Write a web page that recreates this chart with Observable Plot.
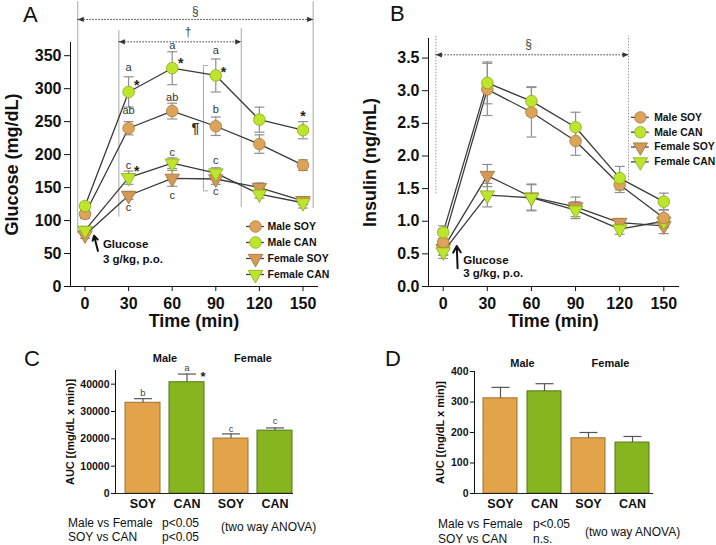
<!DOCTYPE html>
<html><head><meta charset="utf-8">
<script src="https://cdn.jsdelivr.net/npm/d3@7"></script>
<script src="https://cdn.jsdelivr.net/npm/@observablehq/plot@0.6"></script>
<style>
body{margin:0;background:#fff;}
#root{position:relative;width:716px;height:545px;overflow:hidden;font-family:"Liberation Sans",Arial,Helvetica,sans-serif;color:#111;}
.abs{position:absolute;}
.abs svg{display:block;}
.lbl{position:absolute;white-space:nowrap;line-height:1;}
</style></head><body><div id="root"></div>
<script>
// ---------------- data ----------------
const times = [0, 30, 60, 90, 120, 150];
const seriesNames = ["Male SOY", "Male CAN", "Female SOY", "Female CAN"];

// Glucose (mg/dL), mean and SEM
const gluMaleSOY      = [110, 240, 266, 243, 216, 184];
const gluMaleSOYErr   = [7, 10, 12, 14, 14, 8];
const gluMaleCAN      = [122, 295, 331, 320, 253, 237];
const gluMaleCANErr   = [5, 23, 25, 25, 19, 13];
const gluFemaleSOY    = [78, 138, 164, 163, 150, 130];
const gluFemaleSOYErr = [5, 6, 12, 8, 7, 6];
const gluFemaleCAN    = [85, 165, 187, 172, 140, 127];
const gluFemaleCANErr = [6, 10, 8, 8, 6, 8];

// Insulin (ng/mL), mean and SEM
const insMaleSOY      = [0.68, 3.02, 2.67, 2.23, 1.56, 1.05];
const insMaleSOYErr   = [0.2, 0.4, 0.38, 0.22, 0.12, 0.13];
const insMaleCAN      = [0.83, 3.12, 2.84, 2.44, 1.66, 1.30];
const insMaleCANErr   = [0.1, 0.32, 0.22, 0.23, 0.18, 0.13];
const insFemaleSOY    = [0.58, 1.70, 1.37, 1.22, 0.98, 0.93];
const insFemaleSOYErr = [0.1, 0.17, 0.2, 0.15, 0.06, 0.12];
const insFemaleCAN    = [0.53, 1.40, 1.36, 1.17, 0.88, 1.00];
const insFemaleCANErr = [0.1, 0.18, 0.2, 0.13, 0.08, 0.1];

// AUC
const aucGroups     = ["Male SOY", "Male CAN", "Female SOY", "Female CAN"];
const aucDietLabels = ["SOY", "CAN", "SOY", "CAN"];
const aucGlucose    = [33200, 40700, 20100, 23000];
const aucGlucoseErr = [1500, 3000, 1700, 1000];
const aucInsulin    = [312, 335, 181, 167];
const aucInsulinErr = [36, 25, 19, 20];
const sexGroups     = ["Male", "Female"];
const sexFirstGroup = ["Male SOY", "Female SOY"];

// annotations (data coordinates)
const gluLetterT = [30, 60, 90, 30, 60, 90, 60, 30, 30, 60, 90, 90];
const gluLetterV = [332, 365, 358, 267, 286, 268, 203, 183, 120, 138, 191, 144];
const gluLetterS = ["a", "a", "a", "ab", "ab", "b", "c", "c", "c", "c", "c", "c"];
const gluStarT = [35.6, 65.8, 95.2, 150, 35.6];
const gluStarV = [309, 342, 329, 262, 179];
const aucGluLetterG = ["Male SOY", "Male CAN", "Female SOY", "Female CAN"];
const aucGluLetterV = [36700, 45800, 23600, 26500];
const aucGluLetterS = ["b", "a", "c", "c"];

// ---------------- styles ----------------
const FONT = '"Liberation Sans", Arial, Helvetica, sans-serif';
const PT = {
  "Male SOY":   {fill: "#DBA45A", stroke: "#A87A3A", tri: false},
  "Male CAN":   {fill: "#BDE52B", stroke: "#86A91A", tri: false},
  "Female SOY": {fill: "#D39A55", stroke: "#A07038", tri: true},
  "Female CAN": {fill: "#BDE52B", stroke: "#86A91A", tri: true}
};
const BAR = {SOY: {fill: "#E3A34A", stroke: "#9C7431"}, CAN: {fill: "#86B520", stroke: "#55761A"}};

const downTri = {draw(ctx, size) {
  const a = Math.sqrt(4 * size / Math.sqrt(3)), h = a * Math.sqrt(3) / 2;
  ctx.moveTo(-a / 2, -h / 3); ctx.lineTo(a / 2, -h / 3); ctx.lineTo(0, 2 * h / 3); ctx.closePath();
}};
const capSym = {draw(ctx, size) { const w = Math.sqrt(size / Math.PI); ctx.moveTo(-w, 0); ctx.lineTo(w, 0); }};
const headRight = {draw(ctx) { ctx.moveTo(0, 0); ctx.lineTo(-6, -2.6); ctx.lineTo(-6, 2.6); ctx.closePath(); }};
const headLeft  = {draw(ctx) { ctx.moveTo(0, 0); ctx.lineTo(6, -2.6); ctx.lineTo(6, 2.6); ctx.closePath(); }};

function makeTable(vals, errs) {
  return seriesNames.flatMap((s, i) => times.map((t, j) => ({series: s, t, v: vals[i][j], e: errs[i][j]})));
}
const gluData = makeTable([gluMaleSOY, gluMaleCAN, gluFemaleSOY, gluFemaleCAN],
                          [gluMaleSOYErr, gluMaleCANErr, gluFemaleSOYErr, gluFemaleCANErr]);
const insData = makeTable([insMaleSOY, insMaleCAN, insFemaleSOY, insFemaleCAN],
                          [insMaleSOYErr, insMaleCANErr, insFemaleSOYErr, insFemaleCANErr]);

function seriesMarks(data) {
  const marks = [
    Plot.line(data, {x: "t", y: "v", z: "series", stroke: "#3a3a3a", strokeWidth: 1.3}),
    Plot.ruleX(data, {x: "t", y1: d => d.v - d.e, y2: d => d.v + d.e, stroke: "#8f8f8f", strokeWidth: 1.2}),
    Plot.dot(data, {x: "t", y: d => d.v + d.e, symbol: capSym, r: 5, fill: "none", stroke: "#8f8f8f", strokeWidth: 1.2}),
    Plot.dot(data, {x: "t", y: d => d.v - d.e, symbol: capSym, r: 5, fill: "none", stroke: "#8f8f8f", strokeWidth: 1.2})
  ];
  for (const s of ["Female SOY", "Female CAN", "Male SOY", "Male CAN"]) {
    const st = PT[s];
    marks.push(Plot.dot(data.filter(d => d.series === s), {
      x: "t", y: "v", symbol: st.tri ? downTri : "circle", r: st.tri ? 5.4 : 5.8,
      fill: st.fill, stroke: st.stroke, strokeWidth: 0.8
    }));
  }
  return marks;
}

function lineStyle(size) {
  return {fontFamily: FONT, fontSize: size, fontWeight: "bold", color: "#111", background: "transparent", overflow: "visible"};
}

// ---------------- Panel A ----------------
const gluLetters = gluLetterT.map((t, i) => ({t, v: gluLetterV[i], s: gluLetterS[i]}));
const gluStars = gluStarT.map((t, i) => ({t, v: gluStarV[i]}));
const gluVLines = [{x: -5, y1: 80, y2: 432}, {x: 23.3, y1: 105, y2: 388}, {x: 107.5, y1: 120, y2: 391}, {x: 157, y1: 118, y2: 432}];
const gluSpans = [{x1: -5, x2: 157, y: 405, s: "§", sx: 76, sy: 418}, {x1: 23.3, x2: 107.5, y: 371, s: "†", sx: 71, sy: 385}];

const plotA = Plot.plot({
  width: 358, height: 335, marginLeft: 70, marginRight: 41, marginTop: 42, marginBottom: 49,
  style: lineStyle("16px"),
  x: {domain: [-10, 160], ticks: times, tickSize: 5, tickPadding: 6.5, label: null, line: true},
  y: {domain: [0, 370], ticks: d3.range(0, 351, 50), tickSize: 6, tickPadding: 3, label: null, line: true},
  marks: [
    Plot.ruleX(gluVLines, {x: "x", y1: "y1", y2: "y2", stroke: "#a8a8a8", strokeWidth: 1}),
    Plot.ruleX([{x: 81.5, y1: 145, y2: 335}], {x: "x", y1: "y1", y2: "y2", stroke: "#a8a8a8"}),
    Plot.ruleY([{y: 335}, {y: 145}], {y: "y", x1: () => 81.5, x2: () => 85, stroke: "#a8a8a8"}),
    Plot.ruleY(gluSpans, {y: "y", x1: "x1", x2: "x2", stroke: "#444", strokeWidth: 1, strokeDasharray: "1.6,1.4"}),
    Plot.dot(gluSpans, {x: "x1", y: "y", symbol: headLeft, fill: "#333", stroke: "none"}),
    Plot.dot(gluSpans, {x: "x2", y: "y", symbol: headRight, fill: "#333", stroke: "none"}),
    Plot.text(gluSpans, {x: "sx", y: "sy", text: "s", fontSize: 12, fontWeight: "normal", fill: "#444"}),
    ...seriesMarks(gluData),
    Plot.text(gluLetters, {x: "t", y: "v", text: "s", fontSize: 11, fontWeight: "normal", fill: "#333"}),
    Plot.text(gluStars, {x: "t", y: "v", text: () => "*", fontSize: 14, fontWeight: "bold", dy: 3, fill: "#222"}),
    Plot.text([{t: 76, v: 239}], {x: "t", y: "v", text: () => "¶", fontSize: 14, fontWeight: "bold", fill: "#333"}),
    Plot.arrow([{x1: 8.9, y1: 54, x2: 6.2, y2: 77}], {x1: "x1", y1: "y1", x2: "x2", y2: "y2", stroke: "#111", strokeWidth: 2, headLength: 6}),
    Plot.text([{t: 12.3, v: 64, s: "Glucose"}, {t: 12.3, v: 41, s: "3 g/kg, p.o."}], {x: "t", y: "v", text: "s", textAnchor: "start", fontSize: 11.5, fontWeight: "bold"}),
    Plot.text(["Glucose (mg/dL)"], {frameAnchor: "left", dx: -58, rotate: -90, textAnchor: "middle", lineAnchor: "middle", fontSize: 18, fontWeight: "bold"}),
    Plot.text(["Time (min)"], {frameAnchor: "bottom", dy: 35, textAnchor: "middle", lineAnchor: "middle", fontSize: 18, fontWeight: "bold"})
  ]
});

// ---------------- Panel B ----------------
const insVLines = [{x: -5, y1: 1.42, y2: 3.84}, {x: 126, y1: 1.62, y2: 3.84}];
const insSpans = [{x1: -5, x2: 126, y: 3.55, s: "§", sx: 58, sy: 3.72}];
const plotB = Plot.plot({
  width: 356, height: 335, marginLeft: 68, marginRight: 38, marginTop: 38, marginBottom: 49,
  style: lineStyle("16px"),
  x: {domain: [-10, 160], ticks: times, tickSize: 5, tickPadding: 6.5, label: null, line: true},
  y: {domain: [0, 3.8], ticks: d3.range(0, 3.51, 0.5), tickFormat: d3.format(".1f"), tickSize: 6, tickPadding: 3, label: null, line: true},
  marks: [
    Plot.ruleX(insVLines, {x: "x", y1: "y1", y2: "y2", stroke: "#9a9a9a", strokeWidth: 1, strokeDasharray: "1.5,1.5"}),
    Plot.ruleY(insSpans, {y: "y", x1: "x1", x2: "x2", stroke: "#444", strokeWidth: 1, strokeDasharray: "1.6,1.4"}),
    Plot.dot(insSpans, {x: "x1", y: "y", symbol: headLeft, fill: "#333", stroke: "none"}),
    Plot.dot(insSpans, {x: "x2", y: "y", symbol: headRight, fill: "#333", stroke: "none"}),
    Plot.text(insSpans, {x: "sx", y: "sy", text: "s", fontSize: 12, fontWeight: "normal", fill: "#444"}),
    ...seriesMarks(insData),
    Plot.arrow([{x1: 9.8, y1: 0.28, x2: 9.2, y2: 0.62}], {x1: "x1", y1: "y1", x2: "x2", y2: "y2", stroke: "#111", strokeWidth: 2, headLength: 6}),
    Plot.text([{t: 13.6, v: 0.40, s: "Glucose"}, {t: 13.6, v: 0.2, s: "3 g/kg, p.o."}], {x: "t", y: "v", text: "s", textAnchor: "start", fontSize: 11.5, fontWeight: "bold"}),
    Plot.text(["Insulin (ng/mL)"], {frameAnchor: "left", dx: -58, rotate: -90, textAnchor: "middle", lineAnchor: "middle", fontSize: 18, fontWeight: "bold"}),
    Plot.text(["Time (min)"], {frameAnchor: "bottom", dy: 35, textAnchor: "middle", lineAnchor: "middle", fontSize: 18, fontWeight: "bold"})
  ]
});

// ---------------- Legends ----------------
function legendPlot(width, height, markerDx, textDx) {
  const marks = [
    Plot.ruleY(seriesNames, {y: d => d, insetLeft: markerDx - 9, insetRight: width - markerDx - 9, stroke: "#444", strokeWidth: 1.3})
  ];
  for (const s of seriesNames) {
    const st = PT[s];
    marks.push(Plot.dot([s], {y: d => d, frameAnchor: "left", dx: markerDx, symbol: st.tri ? downTri : "circle",
      r: st.tri ? 5.4 : 5.8, fill: st.fill, stroke: st.stroke, strokeWidth: 0.8}));
  }
  marks.push(Plot.text(seriesNames, {y: d => d, frameAnchor: "left", dx: textDx, textAnchor: "start", lineAnchor: "middle", fontSize: 10.5, fontWeight: "bold"}));
  return Plot.plot({
    width, height, marginLeft: 0, marginRight: 0, marginTop: 10, marginBottom: 10,
    style: lineStyle("10.5px"),
    x: {domain: [0, 1], axis: null},
    y: {type: "point", domain: seriesNames, padding: 0, axis: null},
    marks
  });
}
const legendA = legendPlot(115, 68, 15, 27);
const legendB = legendPlot(92, 65, 15, 29);

// ---------------- Bars ----------------
function barRows(vals, errs) {
  return aucGroups.map((g, i) => ({g, diet: aucDietLabels[i], v: vals[i], e: errs[i]}));
}
function barPanel({vals, errs, yDomain, yTicks, width, marginLeft, marginRight, marginTop, range, paddingInner, yTitle, titleDx, sexDy, extra}) {
  const rows = barRows(vals, errs);
  const sexes = sexGroups.map((s, i) => ({s, g: sexFirstGroup[i]}));
  const marks = [];
  for (const diet of ["SOY", "CAN"]) {
    marks.push(Plot.barY(rows.filter(d => d.diet === diet), {x: "g", y: "v", fill: BAR[diet].fill, stroke: BAR[diet].stroke, strokeWidth: 1}));
  }
  marks.push(
    Plot.ruleX(rows, {x: "g", y1: "v", y2: d => d.v + d.e, stroke: "#555", strokeWidth: 1.2}),
    Plot.dot(rows, {x: "g", y: d => d.v + d.e, symbol: capSym, r: 9, fill: "none", stroke: "#555", strokeWidth: 1.2}),
    Plot.ruleY([0], {stroke: "#222", strokeWidth: 1}),
    Plot.text(rows, {x: "g", text: "diet", frameAnchor: "bottom", dy: 10, lineAnchor: "middle", fontSize: 12.5, fontWeight: "bold"}),
    Plot.text(sexes, {x: "g", text: "s", frameAnchor: "top", dx: 22, dy: sexDy, lineAnchor: "middle", fontSize: 11, fontWeight: "bold"}),
    Plot.text([yTitle], {frameAnchor: "left", dx: titleDx, rotate: -90, textAnchor: "middle", lineAnchor: "middle", fontSize: 11, fontWeight: "bold"}),
    ...extra
  );
  return Plot.plot({
    width, height: 205, marginLeft, marginRight, marginTop, marginBottom: 205 - 153,
    style: lineStyle("10.5px"),
    x: {domain: aucGroups, range, paddingInner, paddingOuter: 0.1, axis: null},
    y: {domain: yDomain, ticks: yTicks, tickFormat: d3.format("d"), tickSize: 4, tickPadding: 2, label: null, line: true},
    marks
  });
}
const aucLetters = aucGluLetterG.map((g, i) => ({g, v: aucGluLetterV[i], s: aucGluLetterS[i]}));
const plotC = barPanel({
  vals: aucGlucose, errs: aucGlucoseErr, yDomain: [0, 45000], yTicks: d3.range(0, 40001, 10000),
  width: 358, marginLeft: 115, marginRight: 65, marginTop: 30, range: [119.6, 296.4], paddingInner: 0.21,
  yTitle: "AUC [(mg/dL x min)]", titleDx: -45, sexDy: -12,
  extra: [
    Plot.text(aucLetters, {x: "g", y: "v", text: "s", fontSize: 9.5, fontWeight: "normal", fill: "#444"}),
    Plot.text([{g: "Male CAN", v: 43600}], {x: "g", y: "v", text: () => "*", dx: 16, dy: 3, fontSize: 13, fontWeight: "bold", fill: "#222"})
  ]
});
const plotD = barPanel({
  vals: aucInsulin, errs: aucInsulinErr, yDomain: [0, 400], yTicks: d3.range(0, 401, 100),
  width: 356, marginLeft: 114, marginRight: 63, marginTop: 31, range: [118.6, 293.9], paddingInner: 0.23,
  yTitle: "AUC [(ng/dL x min)]", titleDx: -34, sexDy: -8, extra: []
});

// ---------------- layout ----------------
const root = document.getElementById("root");
function place(node, left, top) {
  const d = document.createElement("div");
  d.className = "abs"; d.style.left = left + "px"; d.style.top = top + "px";
  d.appendChild(node); root.appendChild(d);
}
place(plotA, 0, 0);
place(plotB, 360, 0);
place(plotC, 0, 340);
place(plotD, 360, 340);
place(legendA, 240, 216);
place(legendB, 625, 107);

function label(text, left, top, size, weight) {
  const s = document.createElement("div");
  s.className = "lbl"; s.textContent = text;
  s.style.left = left + "px"; s.style.top = top + "px";
  s.style.fontSize = size + "px"; s.style.fontWeight = weight || "normal";
  root.appendChild(s);
}
label("A", 23, 4, 22); label("B", 390, 3, 22); label("C", 24, 348, 22); label("D", 385, 348, 22);
label("Male vs Female", 68, 517, 12); label("p<0.05", 162, 517, 12);
label("SOY vs CAN", 68, 531, 12); label("p<0.05", 162, 531, 12);
label("(two way ANOVA)", 221, 521, 12);
label("Male vs Female", 438, 518, 12); label("p<0.05", 533, 518, 12);
label("SOY vs CAN", 438, 533, 12); label("n.s.", 533, 533, 12);
label("(two way ANOVA)", 585, 526, 12);
</script></body></html>
